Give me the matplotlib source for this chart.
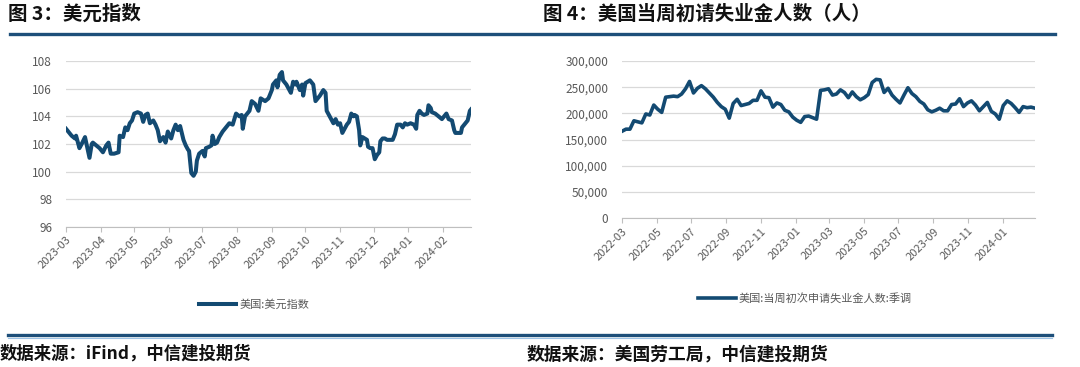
import pandas as pd
import matplotlib
matplotlib.use("Agg")
import matplotlib.pyplot as plt
import matplotlib.dates as mdates
from matplotlib.lines import Line2D
from matplotlib.ticker import FuncFormatter

plt.rcParams['font.family'] = ['Noto Sans CJK SC', 'DejaVu Sans']

W, H = 1080, 367
NAVY = "#134a72"
RULE = "#1d4f7a"
GRAY_TXT = "#595959"
GRID = "#d9d9d9"

# 美国:美元指数
dxy_dates = [
    "2023-03-01", "2023-03-03", "2023-03-06", "2023-03-09", "2023-03-10", "2023-03-13", "2023-03-15",
    "2023-03-18", "2023-03-22", "2023-03-24", "2023-03-25", "2023-03-28", "2023-03-31",
    "2023-04-03", "2023-04-06", "2023-04-08", "2023-04-10", "2023-04-13", "2023-04-17", "2023-04-18",
    "2023-04-21", "2023-04-23", "2023-04-25", "2023-04-27", "2023-04-29",
    "2023-05-01", "2023-05-04", "2023-05-07", "2023-05-09", "2023-05-11", "2023-05-13", "2023-05-15",
    "2023-05-18", "2023-05-20", "2023-05-22", "2023-05-24", "2023-05-27", "2023-05-29", "2023-05-31",
    "2023-06-03", "2023-06-05", "2023-06-07", "2023-06-09", "2023-06-11", "2023-06-14", "2023-06-16",
    "2023-06-18", "2023-06-19", "2023-06-21", "2023-06-23", "2023-06-25", "2023-06-26", "2023-06-28",
    "2023-07-01", "2023-07-03", "2023-07-04", "2023-07-07", "2023-07-09", "2023-07-10", "2023-07-12",
    "2023-07-14", "2023-07-16", "2023-07-19", "2023-07-22", "2023-07-25", "2023-07-28", "2023-07-31",
    "2023-08-03", "2023-08-05", "2023-08-06", "2023-08-08", "2023-08-09", "2023-08-12", "2023-08-14",
    "2023-08-17", "2023-08-20", "2023-08-22", "2023-08-24", "2023-08-26", "2023-08-29",
    "2023-09-01", "2023-09-02", "2023-09-05", "2023-09-06", "2023-09-08", "2023-09-10", "2023-09-11",
    "2023-09-14", "2023-09-16", "2023-09-18", "2023-09-20", "2023-09-22", "2023-09-23", "2023-09-26",
    "2023-09-28", "2023-09-29",
    "2023-10-01", "2023-10-03", "2023-10-05", "2023-10-08", "2023-10-10", "2023-10-12", "2023-10-14",
    "2023-10-17", "2023-10-19", "2023-10-20", "2023-10-22", "2023-10-24", "2023-10-26", "2023-10-28",
    "2023-10-30",
    "2023-11-01", "2023-11-03", "2023-11-05", "2023-11-07", "2023-11-09", "2023-11-11", "2023-11-13",
    "2023-11-14", "2023-11-16", "2023-11-18", "2023-11-19", "2023-11-21", "2023-11-23", "2023-11-25",
    "2023-11-26", "2023-11-28", "2023-11-30",
    "2023-12-02", "2023-12-04", "2023-12-06", "2023-12-07", "2023-12-09", "2023-12-11", "2023-12-13",
    "2023-12-16", "2023-12-18", "2023-12-20", "2023-12-22", "2023-12-25", "2023-12-27", "2023-12-29",
    "2023-12-31",
    "2024-01-03", "2024-01-06", "2024-01-08", "2024-01-09", "2024-01-11", "2024-01-13", "2024-01-15",
    "2024-01-18", "2024-01-19", "2024-01-21", "2024-01-22", "2024-01-25", "2024-01-28", "2024-01-31",
    "2024-02-02", "2024-02-04", "2024-02-06", "2024-02-09", "2024-02-11", "2024-02-12", "2024-02-14",
    "2024-02-17", "2024-02-18", "2024-02-20", "2024-02-22", "2024-02-23", "2024-02-25", "2024-02-26",
]
dxy_values = [
    103.1, 102.9, 102.6, 102.4, 102.6, 101.7, 102.0, 102.5, 101.0, 102.0, 102.1, 101.9, 101.7,
    101.4, 101.9, 102.1, 101.3, 101.3, 101.4, 102.6, 102.5, 103.2, 103.0, 103.5, 103.7,
    104.2, 104.3, 104.2, 103.6, 104.1, 104.2, 103.5, 103.7, 103.4, 103.0, 102.2, 102.5, 102.1, 102.9,
    102.4, 103.0, 103.4, 103.0, 103.3, 102.3, 101.9, 101.6, 101.5, 99.9, 99.7, 100.0, 100.8, 101.3,
    101.5, 101.1, 101.7, 101.8, 101.9, 102.6, 102.0, 102.1, 102.5, 102.9, 103.2, 103.5, 103.4, 104.2,
    104.0, 104.1, 103.1, 104.0, 104.1, 104.4, 105.1, 104.9, 104.4, 105.3, 105.2, 105.1, 105.3,
    105.9, 106.3, 106.6, 106.1, 107.0, 107.2, 106.6, 106.3, 106.0, 105.7, 106.5, 106.3, 106.5, 105.9,
    106.3, 105.5,
    106.4, 106.5, 106.6, 106.3, 105.1, 105.3, 105.5, 105.9, 105.7, 104.4, 104.1, 103.8, 103.5, 103.8,
    103.4,
    103.5, 102.8, 103.1, 103.4, 103.6, 104.2, 104.0, 104.1, 104.0, 103.0, 101.9, 102.5, 102.4, 102.3,
    101.8, 101.7, 101.7,
    100.9, 101.2, 101.4, 102.2, 102.4, 102.4, 102.3, 102.3, 102.3, 102.7, 103.4, 103.4, 103.2, 103.5,
    103.4,
    103.5, 103.4, 103.1, 104.1, 104.4, 104.2, 104.1, 104.2, 104.8, 104.6, 104.3, 104.2, 104.0, 103.8,
    104.0, 104.2, 103.8, 103.7, 103.0, 102.8, 102.8, 102.8, 103.2, 103.4, 103.6, 103.7, 104.4, 104.5,
]

# 美国:当周初次申请失业金人数:季调, weekly from 2022-03-05 (thousands)
claims_start = "2022-03-05"
claims_values = [
    166, 170, 170, 186, 184, 182, 199, 197, 216, 208,
    202, 231, 232, 233, 232, 237, 247, 261, 239, 248,
    253, 247, 239, 231, 221, 213, 208, 191, 219, 227,
    215, 217, 219, 225, 225, 243, 231, 230, 212, 220,
    217, 206, 203, 193, 187, 183, 194, 195, 192, 189,
    244, 245, 247, 235, 237, 245, 240, 230, 241, 232,
    226, 230, 236, 259, 265, 264, 240, 248, 235, 227,
    220, 235, 249, 238, 232, 223, 218, 207, 203, 206,
    210, 205, 205, 217, 218, 228, 213, 220, 224, 216,
    205, 213, 221, 204, 199, 189, 215, 224, 219, 211,
    202, 213, 211, 212, 210,
]
claims_values = [v * 1000 for v in claims_values]
claims_dates = pd.date_range(claims_start, periods=len(claims_values), freq="7D")

dxy_x = pd.to_datetime(dxy_dates)


def style_axis(ax):
    for s in ["top", "right", "left"]:
        ax.spines[s].set_visible(False)
    ax.spines["bottom"].set_color("#bfbfbf")
    ax.grid(axis="y", color=GRID, lw=0.9)
    ax.set_axisbelow(True)
    ax.tick_params(axis="y", length=0, pad=10, labelsize=8.5, labelcolor=GRAY_TXT)
    ax.tick_params(axis="x", length=3.5, color="#bfbfbf", labelsize=8, labelcolor=GRAY_TXT, pad=2)
    for lab in ax.get_xticklabels():
        lab.set_rotation(45)
        lab.set_ha("right")
        lab.set_va("top")
        lab.set_rotation_mode("anchor")


fig = plt.figure(figsize=(W / 100, H / 100), dpi=100)

# left panel
ax1 = fig.add_axes([66 / W, 1 - 227 / H, 405 / W, 166 / H])
ax1.plot(dxy_x, dxy_values, color=NAVY, lw=2.9, solid_joinstyle="round", label="美国:美元指数")
ax1.set_ylim(96, 108)
ax1.set_yticks(range(96, 109, 2))
ax1.set_xlim(dxy_x[0], dxy_x[-1])
ax1.xaxis.set_major_locator(mdates.MonthLocator(bymonthday=1))
ax1.xaxis.set_major_formatter(mdates.DateFormatter("%Y-%m"))
style_axis(ax1)
ax1.legend(loc="center", bbox_to_anchor=(254 / W, 1 - 305 / H), bbox_transform=fig.transFigure,
           frameon=False, fontsize=8, labelcolor=GRAY_TXT, handlelength=3.4, handletextpad=0.3)

# right panel
ax2 = fig.add_axes([622 / W, 1 - 218.3 / H, 413 / W, 157.3 / H])
ax2.plot(claims_dates, claims_values, color=NAVY, lw=2.6, solid_joinstyle="round",
         label="美国:当周初次申请失业金人数:季调")
ax2.set_ylim(0, 300000)
ax2.set_yticks(range(0, 300001, 50000))
ax2.yaxis.set_major_formatter(FuncFormatter(lambda v, p: f"{v:,.0f}"))
ax2.set_xlim(claims_dates[0], claims_dates[-1])
ax2.xaxis.set_major_locator(mdates.MonthLocator(bymonth=[1, 3, 5, 7, 9, 11], bymonthday=5))
ax2.xaxis.set_major_formatter(mdates.DateFormatter("%Y-%m"))
style_axis(ax2)
ax2.legend(loc="center", bbox_to_anchor=(805 / W, 1 - 298 / H), bbox_transform=fig.transFigure,
           frameon=False, fontsize=8, labelcolor=GRAY_TXT, handlelength=3.4, handletextpad=0.3)

# titles, rules and sources
fig.text(8 / W, 1 - 14 / H, "图 3：美元指数", fontsize=14, fontweight="bold", va="center", color="#111111")
fig.text(543 / W, 1 - 14 / H, "图 4：美国当周初请失业金人数（人）", fontsize=14, fontweight="bold",
         va="center", color="#111111")
fig.add_artist(Line2D([10 / W, 1055 / W], [1 - 34 / H] * 2, color=RULE, lw=2.4))
fig.add_artist(Line2D([8 / W, 1052 / W], [1 - 335 / H] * 2, color=RULE, lw=2.4))
fig.add_artist(Line2D([8 / W, 1052 / W], [1 - 337.5 / H] * 2, color="#9dc3e6", lw=0.8))
fig.text(0 / W, 1 - 354 / H, "数据来源：iFind，中信建投期货", fontsize=12.5, fontweight="bold",
         va="center", color="#111111")
fig.text(527 / W, 1 - 354 / H, "数据来源：美国劳工局，中信建投期货", fontsize=12.8, fontweight="bold",
         va="center", color="#111111")

fig.savefig("out.png", dpi=100)
